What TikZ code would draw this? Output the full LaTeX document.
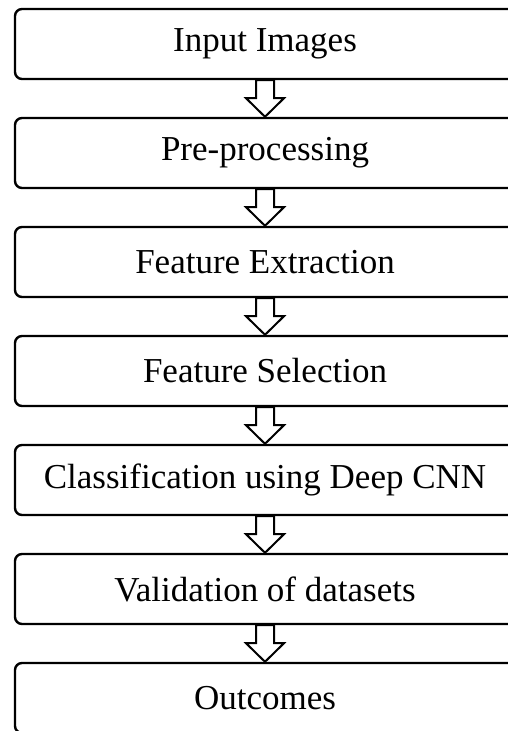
\documentclass[tikz,border=0pt]{standalone}
\usepackage{fontspec}
\setmainfont{Liberation Serif}
\usetikzlibrary{positioning}
\tikzset{
	stage/.style={draw, rounded corners=7pt, line width=2.4pt, minimum width=500pt,
		minimum height=70pt, inner sep=0pt, font=\fontsize{35}{40}\selectfont},
	blockarrow/.style={draw, fill=white, line width=2pt, line join=miter}
}
% hollow block arrow from the bottom of one stage to the top of the next
\newcommand{\flowarrow}[2]{%
	\draw[blockarrow] (#1.south) ++(-9pt,0) -- ++(0,-18pt) -- ++(-10pt,0) -- (#2.north)
	-- ++(19pt,18.6pt) -- ++(-10pt,0) -- ++(0,18pt) -- cycle;}
\begin{document}
\begin{tikzpicture}[node distance=36.6pt]
	\useasboundingbox (0,0) rectangle (508pt,731pt);
	\clip (0,0) rectangle (508pt,731pt);
	\node[stage] (input) at (265pt,687pt) {Input Images};
	\node[stage, below=of input] (prep) {Pre-processing};
	\node[stage, below=of prep] (extract) {Feature Extraction};
	\node[stage, below=of extract] (select) {Feature Selection};
	\node[stage, below=of select] (classify) {Classification using Deep CNN};
	\node[stage, below=of classify] (valid) {Validation of datasets};
	\node[stage, below=of valid] (outcome) {Outcomes};
	\flowarrow{input}{prep}
	\flowarrow{prep}{extract}
	\flowarrow{extract}{select}
	\flowarrow{select}{classify}
	\flowarrow{classify}{valid}
	\flowarrow{valid}{outcome}
\end{tikzpicture}
\end{document}
